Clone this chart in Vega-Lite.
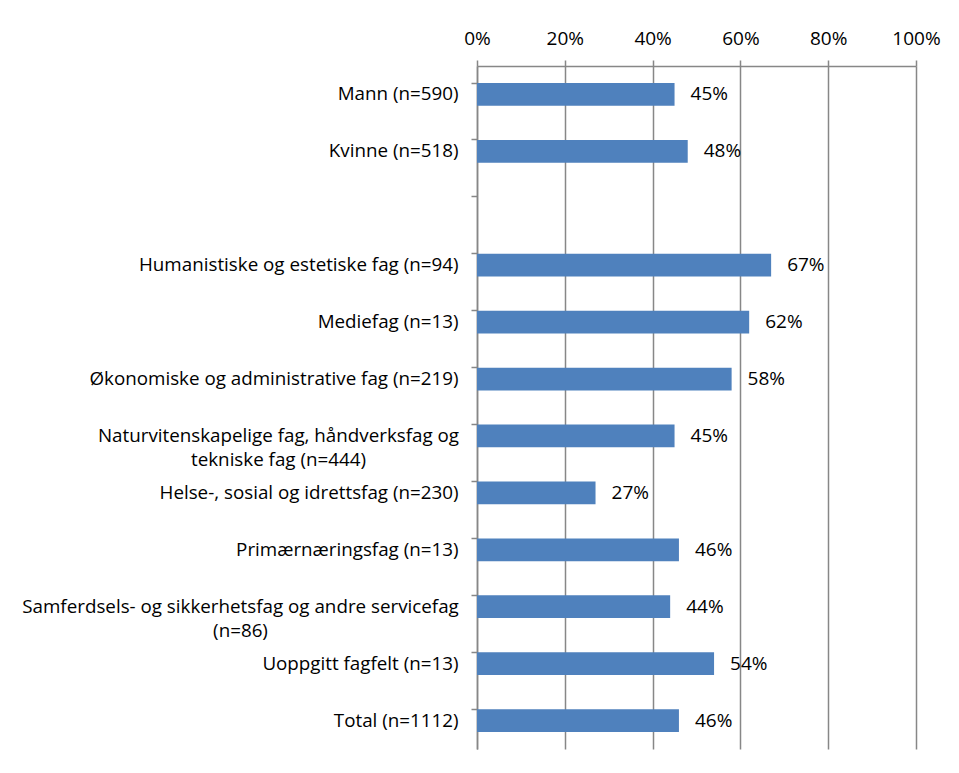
{
  "$schema": "https://vega.github.io/schema/vega-lite/v6.json",
  "width": 439,
  "height": 683,
  "autosize": "none",
  "padding": {"left": 477, "top": 66, "right": 43, "bottom": 24},
  "background": "white",
  "config": {
    "view": {"stroke": null},
    "font": "Open Sans"
  },
  "data": {
    "values": [
      {"cat": "Mann (n=590)", "value": 0.45},
      {"cat": "Kvinne (n=518)", "value": 0.48},
      {"cat": "Humanistiske og estetiske fag (n=94)", "value": 0.67},
      {"cat": "Mediefag (n=13)", "value": 0.62},
      {"cat": "Økonomiske og administrative fag (n=219)", "value": 0.58},
      {"cat": "Naturvitenskapelige fag, håndverksfag og|tekniske fag (n=444)", "value": 0.45},
      {"cat": "Helse-, sosial og idrettsfag (n=230)", "value": 0.27},
      {"cat": "Primærnæringsfag (n=13)", "value": 0.46},
      {"cat": "Samferdsels- og sikkerhetsfag og andre servicefag|(n=86)", "value": 0.44},
      {"cat": "Uoppgitt fagfelt (n=13)", "value": 0.54},
      {"cat": "Total (n=1112)", "value": 0.46}
    ]
  },
  "encoding": {
    "y": {
      "field": "cat",
      "type": "nominal",
      "sort": null,
      "scale": {
        "domain": ["Mann (n=590)", "Kvinne (n=518)", " ", "Humanistiske og estetiske fag (n=94)", "Mediefag (n=13)", "Økonomiske og administrative fag (n=219)", "Naturvitenskapelige fag, håndverksfag og|tekniske fag (n=444)", "Helse-, sosial og idrettsfag (n=230)", "Primærnæringsfag (n=13)", "Samferdsels- og sikkerhetsfag og andre servicefag|(n=86)", "Uoppgitt fagfelt (n=13)", "Total (n=1112)"],
        "paddingInner": 0.6,
        "paddingOuter": 0.3
      },
      "axis": {
        "title": null,
        "orient": "left",
        "labelExpr": "split(datum.label, '|')",
        "labelFontSize": 18.8,
        "labelColor": "black",
        "labelAlign": {"condition": {"test": "indexof(datum.label, '|') >= 0", "value": "center"}, "value": "right"},
        "labelPadding": {"condition": [
          {"test": "indexof(datum.label, 'Natur') >= 0", "value": 193},
          {"test": "indexof(datum.label, 'Samf') >= 0", "value": 231}
        ], "value": 13},
        "labelLimit": 500,
        "labelLineHeight": 24,
        "domainColor": "#878787",
        "domainWidth": 1.5,
        "tickColor": "#878787",
        "tickWidth": 1.5,
        "tickSize": 6,
        "bandPosition": 0
      }
    },
    "x": {
      "field": "value",
      "type": "quantitative",
      "scale": {"domain": [0, 1]},
      "axis": {
        "title": null,
        "orient": "top",
        "format": ".0%",
        "values": [0, 0.2, 0.4, 0.6, 0.8, 1],
        "labelFontSize": 19,
        "labelColor": "black",
        "labelFlush": false,
        "labelPadding": 12,
        "grid": true,
        "gridColor": "#878787",
        "gridWidth": 1.5,
        "gridOpacity": 1,
        "domainColor": "#878787",
        "domainWidth": 1.5,
        "tickColor": "#878787",
        "tickWidth": 1.5,
        "tickSize": 6
      }
    }
  },
  "layer": [
    {
      "mark": {"type": "bar", "color": "#4F81BD"}
    },
    {
      "mark": {"type": "text", "align": "left", "dx": 16, "fontSize": 19, "color": "black"},
      "encoding": {
        "text": {"field": "value", "type": "quantitative", "format": ".0%"}
      }
    }
  ]
}
